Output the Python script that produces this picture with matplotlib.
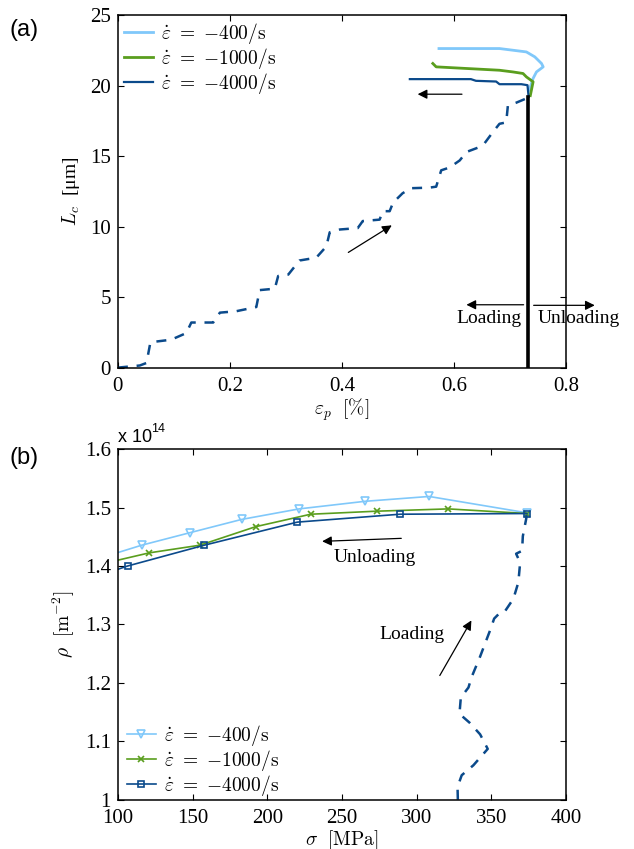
import matplotlib
matplotlib.use("Agg")
import matplotlib.pyplot as plt

plt.rcParams["font.family"] = ["Liberation Serif", "DejaVu Serif"]
plt.rcParams["mathtext.fontset"] = "cm"
plt.rcParams["font.size"] = 14
plt.rcParams["xtick.direction"] = "in"
plt.rcParams["ytick.direction"] = "in"
plt.rcParams["xtick.top"] = True
plt.rcParams["ytick.right"] = True

c400 = "#80c8fa"
c1000 = "#5a9e1e"
c4000 = "#0b4a8b"

# (a) loading curve, plastic strain [%] vs L_c [um]
load_ep = [0.0, 0.039, 0.051, 0.058, 0.095, 0.122, 0.131, 0.170, 0.182, 0.211, 0.247,
           0.253, 0.280, 0.286, 0.304, 0.324, 0.354, 0.372, 0.378, 0.396, 0.428, 0.437,
           0.467, 0.473, 0.485, 0.491, 0.508, 0.523, 0.556, 0.568, 0.577, 0.592, 0.610,
           0.622, 0.642, 0.654, 0.669, 0.681, 0.693, 0.696, 0.711, 0.729]
load_lc = [0.0, 0.15, 0.33, 1.8, 1.98, 2.45, 3.2, 3.2, 3.9, 4.0, 4.3,
           5.5, 5.6, 6.5, 6.6, 7.6, 7.8, 8.6, 9.6, 9.8, 9.9, 10.4,
           10.5, 11.1, 11.1, 11.7, 12.37, 12.73, 12.77, 12.84, 14.0, 14.2, 14.7,
           15.3, 15.6, 15.9, 16.7, 17.3, 17.4, 18.6, 18.8, 19.1]

# (a) unloading curves
ep_400 = [0.734, 0.738, 0.741, 0.747, 0.759, 0.756, 0.744, 0.729, 0.681, 0.573]
lc_400 = [19.7, 20.16, 20.52, 20.98, 21.34, 21.58, 22.05, 22.40, 22.64, 22.64]
ep_1000 = [0.736, 0.741, 0.729, 0.723, 0.705, 0.681, 0.568, 0.562]
lc_1000 = [19.3, 20.28, 20.63, 20.87, 20.98, 21.10, 21.34, 21.58]
ep_4000 = [0.733, 0.731, 0.720, 0.681, 0.675, 0.639, 0.630, 0.521]
lc_4000 = [19.2, 20.04, 20.11, 20.11, 20.30, 20.35, 20.47, 20.47]

# (b) stress [MPa] vs dislocation density [x1e14 m^-2]
sig_400 = [100, 115.9, 148.2, 182.8, 221.2, 265.4, 308.3, 373.7]
rho_400 = [1.423, 1.4356, 1.457, 1.4797, 1.4977, 1.5107, 1.519, 1.491]
sig_1000 = [100, 121.0, 154.9, 192.2, 229.0, 273.2, 321.2, 373.7]
rho_1000 = [1.410, 1.4225, 1.4356, 1.4673, 1.4886, 1.4938, 1.4977, 1.4898]
sig_4000 = [100, 106.5, 157.8, 220.1, 288.8, 373.7]
rho_4000 = [1.3944, 1.40, 1.4356, 1.4751, 1.4886, 1.4898]

load_sig = [327.5, 327.3, 330.1, 337.9, 347.5, 342.4, 335.3, 328.6, 329.5, 334.6, 336.9,
            342.4, 349.1, 351.8, 355.3, 358.5, 364.7, 368.0, 369.2, 366.5, 370.5, 371.0,
            373.2, 373.7]
load_rho = [1.0, 1.022, 1.042, 1.059, 1.087, 1.112, 1.132, 1.147, 1.175, 1.192, 1.211,
            1.245, 1.290, 1.310, 1.319, 1.3205, 1.344, 1.372, 1.406, 1.421, 1.426, 1.451,
            1.480, 1.4898]

labels = [r"$\dot{\varepsilon}\ =\ {-400}/\mathrm{s}$",
          r"$\dot{\varepsilon}\ =\ {-1000}/\mathrm{s}$",
          r"$\dot{\varepsilon}\ =\ {-4000}/\mathrm{s}$"]

fig = plt.figure(figsize=(6.34, 8.49), dpi=100)
ax1 = fig.add_axes([0.186, 0.567, 0.707, 0.415])
ax2 = fig.add_axes([0.186, 0.058, 0.707, 0.413])

# ---- panel (a)
ax1.plot(ep_400, lc_400, color=c400, lw=2, label=labels[0])
ax1.plot(ep_1000, lc_1000, color=c1000, lw=2, label=labels[1])
ax1.plot(ep_4000, lc_4000, color=c4000, lw=1.6, label=labels[2])
ax1.plot(load_ep, load_lc, color=c4000, lw=1.8, ls=(0, (4, 3.5)))
ax1.plot([0.7316, 0.7316], [0, 19.2], color="black", lw=2.6)
ax1.set_xlim(0, 0.8)
ax1.set_ylim(0, 25)
ax1.set_xticks([0, 0.2, 0.4, 0.6, 0.8])
ax1.set_xticklabels(["0", "0.2", "0.4", "0.6", "0.8"])
ax1.set_yticks([0, 5, 10, 15, 20, 25])
ax1.set_xlabel(r"$\varepsilon_p\ \ [\%]$", fontsize=14, labelpad=0)
ax1.set_ylabel(r"$L_c$  [μm]", fontsize=14, labelpad=6)
ax1.legend(loc="upper left", frameon=False, fontsize=14, handlelength=1.5,
           handletextpad=0.4, borderaxespad=0.1, labelspacing=0.0,
           borderpad=0.2)

arr = dict(arrowstyle="-|>", color="black", lw=0.9, mutation_scale=14)
ax1.annotate("", xy=(0.530, 19.4), xytext=(0.619, 19.4), arrowprops=arr)
ax1.annotate("", xy=(0.493, 10.2), xytext=(0.407, 8.07), arrowprops=arr)
ax1.annotate("", xy=(0.617, 4.46), xytext=(0.729, 4.46), arrowprops=arr)
ax1.annotate("", xy=(0.856, 4.42), xytext=(0.737, 4.42), arrowprops=arr,
             annotation_clip=False)
ax1.text(0.663, 3.5, "Loading", ha="center", va="center", fontsize=14)
ax1.text(0.822, 3.5, "Unloading", ha="center", va="center", fontsize=14, clip_on=False)

# ---- panel (b)
ax2.plot(sig_400, rho_400, color=c400, lw=1.2, marker="v", ms=6, mfc="none",
         mew=1.2, markevery=list(range(1, len(sig_400))), label=labels[0])
ax2.plot(sig_1000, rho_1000, color=c1000, lw=1.2, marker="x", ms=4,
         mew=1.2, markevery=list(range(1, len(sig_1000))), label=labels[1])
ax2.plot(sig_4000, rho_4000, color=c4000, lw=1.2, marker="s", ms=5, mfc="none",
         mew=1.2, markevery=list(range(1, len(sig_4000))), label=labels[2])
ax2.plot(load_sig, load_rho, color=c4000, lw=1.8, ls=(0, (4, 3.5)))
ax2.set_xlim(100, 400)
ax2.set_ylim(1.0, 1.6)
ax2.set_xticks([100, 150, 200, 250, 300, 350, 400])
ax2.set_yticks([1.0, 1.1, 1.2, 1.3, 1.4, 1.5, 1.6])
ax2.set_yticklabels(["1", "1.1", "1.2", "1.3", "1.4", "1.5", "1.6"])
ax2.set_xlabel(r"$\sigma\ \ [\mathrm{MPa}]$", fontsize=14, labelpad=0)
ax2.set_ylabel(r"$\rho\ \ [\mathrm{m}^{-2}]$", fontsize=14, labelpad=6)
ax2.legend(loc="lower left", bbox_to_anchor=(0.015, 0.0), frameon=False,
           fontsize=14, handlelength=1.5, handletextpad=0.4, borderaxespad=0.0,
           labelspacing=0.0, borderpad=0.1)
ax2.annotate("", xy=(234.8, 1.442), xytext=(291.5, 1.4475), arrowprops=arr)
ax2.text(272, 1.414, "Unloading", ha="center", va="center", fontsize=14)
ax2.annotate("", xy=(337.5, 1.311), xytext=(314.5, 1.2085), arrowprops=arr)
ax2.text(296.7, 1.282, "Loading", ha="center", va="center", fontsize=14)

ax2.text(0.0, 1.01, "x 10", transform=ax2.transAxes, fontsize=13,
         family="Liberation Sans", ha="left", va="bottom")
ax2.text(0.075, 1.04, "14", transform=ax2.transAxes, fontsize=9,
         family="Liberation Sans", ha="left", va="bottom")

for ax in (ax1, ax2):
    for s in ax.spines.values():
        s.set_linewidth(1.1)
    ax.tick_params(length=4, width=0.8, pad=5, labelsize=15)
    ax.tick_params(axis="x", pad=7)

fig.text(0.015, 0.978, "(a)", fontsize=17, family="Liberation Sans", va="top")
fig.text(0.015, 0.474, "(b)", fontsize=17, family="Liberation Sans", va="top")

fig.savefig("out.png", dpi=100)
